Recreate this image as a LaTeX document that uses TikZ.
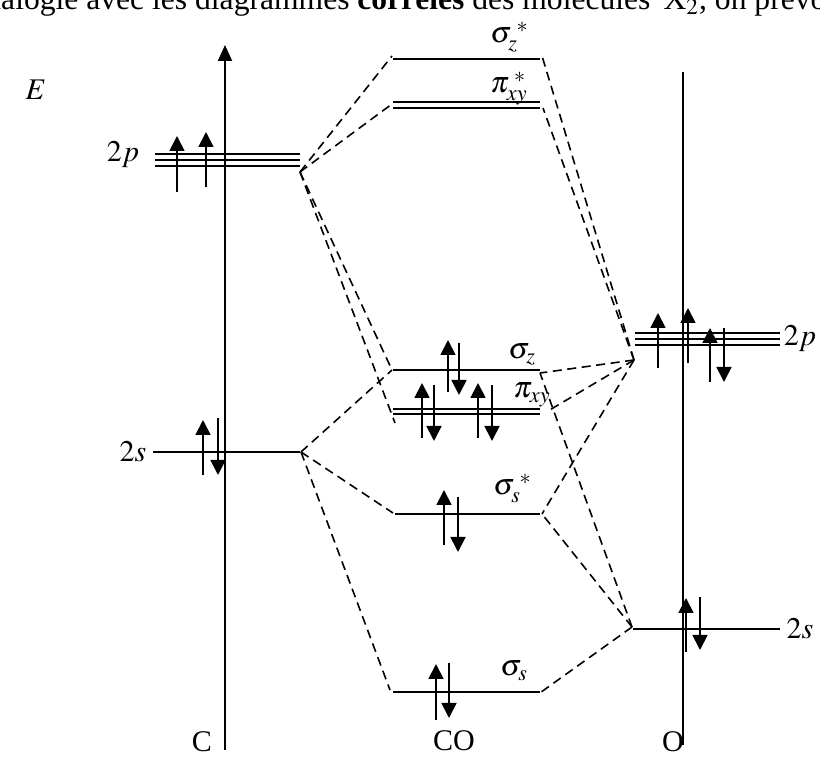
\documentclass[tikz,border=0pt]{standalone}
\usepackage{mathptmx}
\usepackage[no-math]{fontspec}
\setmainfont{Liberation Serif}
\usetikzlibrary{arrows.meta}

\begin{document}
\begin{tikzpicture}[
    x=0.5pt, y=-0.5pt,
    level/.style={line width=1pt},
    axisline/.style={line width=1pt},
    corr/.style={line width=0.8pt, dash pattern=on 4.5pt off 2.8pt},
    spin/.style={line width=0.9pt, -{Triangle[length=7.5pt, width=7.5pt]}},
    lab/.style={font=\fontsize{15}{18}\selectfont, inner sep=0pt},
  ]

  \useasboundingbox (0,0) rectangle (820,758);

  % Cut-off line of text above the figure
  \begin{scope}
    \clip (0,0) rectangle (820,758);
    \node[lab, font=\fontsize{15.8}{19}\selectfont, anchor=base west] (intro) at (-29,10)
      {analogie avec les diagrammes \textbf{corrélés} des molécules \,X$_2$, on prévoit};
  \end{scope}

  % === Energy axis (C) and O axis ===
  \draw[axisline, -{Triangle[length=8pt, width=7pt]}] (225,750) -- (225,45);
  \draw[axisline] (683,72) -- (683,745);
  \node[lab] (E) at (36,90) {$E$};

  % === Atomic levels of C ===
  \foreach \y in {154,160,166}
    \draw[level] (155,\y) -- (300,\y);
  \draw[level] (153,452) -- (300,452);
  \node[lab] (lC2p) at (123,155) {$2p$};
  \node[lab] (lC2s) at (133,452) {$2s$};
  \coordinate (Cp) at (300,172);
  \coordinate (Cs) at (301,452);

  % === Atomic levels of O ===
  \foreach \y in {333,339,345}
    \draw[level] (635,\y) -- (780,\y);
  \draw[level] (633,629) -- (780,629);
  \node[lab] (lO2p) at (800,339) {$2p$};
  \node[lab] (lO2s) at (800,629) {$2s$};
  \coordinate (Op) at (634,360);
  \coordinate (Os) at (632,627);

  % === Molecular levels of CO ===
  \draw[level] (393,59) -- (540,59);
  \draw[level] (393,102) -- (540,102);
  \draw[level] (393,108) -- (540,108);
  \draw[level] (393,370) -- (540,370);
  \draw[level] (393,409) -- (540,409);
  \draw[level] (393,414) -- (540,414);
  \draw[level] (395,514) -- (540,514);
  \draw[level] (393,692) -- (540,692);

  \coordinate (szsL) at (392,56);  \coordinate (szsR) at (542,56);
  \coordinate (pxsL) at (392,104); \coordinate (pxsR) at (543,108);
  \coordinate (szL) at (392,370);  \coordinate (szR) at (540,373);
  \coordinate (pxL) at (395,423);  \coordinate (pxR) at (548,411);
  \coordinate (sssL) at (393,513); \coordinate (sssR) at (542,514);
  \coordinate (ssL) at (390,690);  \coordinate (ssR) at (537,695);

  \node[lab, anchor=base west] (lszs) at (490,43) {$\sigma_{z}^{\;*}$};
  \node[lab, anchor=base west] (lpxs) at (490,93) {$\pi_{xy}^{\;*}$};
  \node[lab, anchor=base west] (lsz) at (508,359) {$\sigma_{z}$};
  \node[lab, anchor=base west] (lpx) at (513,398) {$\pi_{xy}$};
  \node[lab, anchor=base west] (lsss) at (493,495) {$\sigma_{s}^{\;*}$};
  \node[lab, anchor=base west] (lss) at (500,676) {$\sigma_{s}$};

  % === Correlation lines ===
  \foreach \t in {szsL,pxsL,szL,pxL}
    \draw[corr] (Cp) -- (\t);
  \foreach \t in {szL,sssL,ssL}
    \draw[corr] (Cs) -- (\t);
  \foreach \t in {szsR,pxsR,szR,pxR,sssR}
    \draw[corr] (Op) -- (\t);
  \foreach \t in {szR,sssR,ssR}
    \draw[corr] (Os) -- (\t);

  % === Electrons ===
  % C
  \draw[spin] (177,192) -- (177,136);
  \draw[spin] (206,187) -- (206,132);
  \draw[spin] (203,475) -- (203,420);
  \draw[spin] (218,418) -- (218,475);
  % O
  \draw[spin] (658,368) -- (658,313);
  \draw[spin] (688,363) -- (688,308);
  \draw[spin] (710,382) -- (710,328);
  \draw[spin] (724,328) -- (724,382);
  \draw[spin] (686,652) -- (686,598);
  \draw[spin] (700,597) -- (700,650);
  % CO
  \draw[spin] (448,392) -- (448,340);
  \draw[spin] (459,343) -- (459,395);
  \draw[spin] (422,438) -- (422,383);
  \draw[spin] (434,385) -- (434,441);
  \draw[spin] (478,438) -- (478,383);
  \draw[spin] (492,385) -- (492,441);
  \draw[spin] (444,545) -- (444,490);
  \draw[spin] (458,497) -- (458,552);
  \draw[spin] (436,720) -- (436,664);
  \draw[spin] (449,663) -- (449,718);

  % === Atom and molecule names ===
  \node[lab] (nC) at (202,742) {C};
  \node[lab] (nCO) at (454,741) {CO};
  \node[lab] (nO) at (673,742) {O};

\end{tikzpicture}
\end{document}
